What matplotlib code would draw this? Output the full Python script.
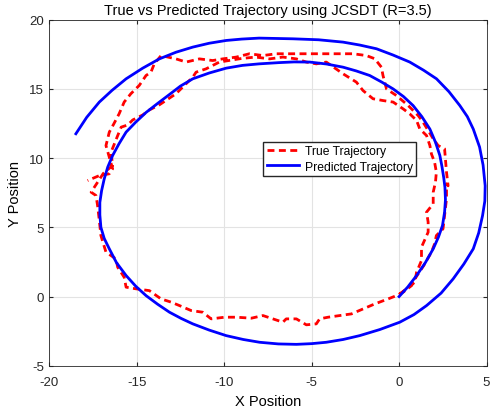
import matplotlib.pyplot as plt

plt.rcParams['font.family'] = ['Liberation Sans', 'DejaVu Sans']
plt.rcParams['axes.unicode_minus'] = False

# predicted trajectory (spiral)
pred_x = [0.0, 0.5, 1.0, 1.5, 1.95, 2.25, 2.48, 2.6, 2.65, 2.62, 2.55, 2.45, 2.33, 2.08,
          1.76, 1.3, 0.8, 0.25, -0.34, -1.0, -1.68, -2.45, -3.2, -4.15, -5.11, -6.0,
          -6.86, -8.0, -8.95, -9.88, -10.85, -11.79, -12.5, -13.12, -13.8, -14.46,
          -15.05, -15.6, -16.0, -16.37, -16.65, -16.85, -17.0, -17.1, -17.1, -17.04,
          -16.85, -16.56, -16.15, -15.6, -15.05, -14.46, -13.8, -13.12, -12.45,
          -11.79, -10.85, -9.88, -8.9, -7.97, -6.9, -5.87, -5.0, -4.16, -3.2, -2.25,
          -1.1, 0.04, 0.85, 1.57, 2.4, 3.09, 3.7, 4.24, 4.55, 4.77, 4.9, 4.92, 4.8,
          4.6, 4.24, 3.9, 3.47, 2.85, 2.14, 1.4, 0.61, -0.35, -1.29, -2.25, -3.2,
          -4.6, -6.07, -8.0, -9.0, -9.88, -10.85, -11.79, -12.75, -13.7, -14.65,
          -15.6, -16.4, -17.13, -17.85, -18.47]
pred_y = [0.0, 0.7, 1.52, 2.45, 3.45, 4.3, 5.13, 6.1, 7.0, 7.9, 8.6, 9.4, 10.19, 11.15,
          12.1, 13.0, 13.8, 14.45, 15.0, 15.5, 15.97, 16.3, 16.57, 16.8, 16.94, 16.95,
          16.9, 16.81, 16.7, 16.5, 16.15, 15.73, 15.2, 14.6, 13.95, 13.3,
          12.6, 11.88, 11.05, 10.19, 9.35, 8.5, 7.65, 6.8, 5.9, 5.0,
          4.2, 3.45, 2.45, 1.52, 0.75, 0.07, -0.55, -1.13, -1.58,
          -1.97, -2.42, -2.82, -3.1, -3.3, -3.42, -3.45, -3.4, -3.3, -3.1, -2.82,
          -2.38, -1.85, -1.3, -0.65, 0.25, 1.28, 2.35, 3.45, 4.6, 5.85, 6.9, 8.0, 9.5,
          10.8, 12.1, 13.0, 13.8, 14.8, 15.73, 16.35, 16.94, 17.45, 17.9, 18.17, 18.38,
          18.55, 18.62, 18.67, 18.6, 18.5, 18.3, 18.02, 17.65, 17.17, 16.5,
          15.73, 14.9, 14.05, 12.95, 11.76]

# true trajectory (noisy, two laps)
true_x = [0.04, 0.42, 0.9, 1.0, 1.28, 1.28, 1.53, 1.66, 1.66, 1.57, 1.95, 1.95, 2.08,
          2.13, 2.03, 1.85, 1.76, 1.57, 1.18, 1.0, 0.61, 0.23, -0.34, -0.92, -1.49,
          -2.06, -2.44, -3.2, -4.16, -4.73, -5.3, -5.87, -6.64, -7.4, -8.2, -9.0,
          -10.27, -11.03, -11.6, -11.79, -12.75, -13.7, -14.27, -14.65, -15.22,
          -15.5, -15.88, -16.08, -16.46, -16.37, -16.9, -17.6, -17.32, -17.23,
          -17.13, -17.04, -16.75, -16.18, -16.08, -15.71, -15.6, -15.03, -14.27,
          -13.6, -13.03, -12.55, -11.88, -11.22, -10.74, -9.97, -9.3, -8.44, -7.78,
          -7.21, -6.64, -6.45, -5.87, -5.3, -4.73, -4.54, -4.06, -3.39, -2.72,
          -2.06, -1.39, -0.63, -0.15, 0.23, 0.71, 0.9, 1.41, 1.57, 1.85, 2.03, 2.13,
          2.51, 2.6, 2.71, 2.71, 2.8, 2.71, 2.6, 2.23, 1.95, 1.66, 1.37, 1.09, 0.52,
          -0.15, -0.72, -0.92, -1.01, -1.39, -1.87, -2.63, -3.58, -4.54, -5.87,
          -7.02, -7.78, -8.55, -9.3, -10.08, -10.65, -11.41, -12.17, -12.75, -13.6,
          -13.99, -14.18, -14.46, -14.85, -15.33, -15.71, -16.0, -16.3, -16.56,
          -16.75, -16.37, -16.56, -17.13, -17.8]
true_y = [0.19, 0.56, 1.04, 1.76, 2.6, 3.57, 4.29, 4.65, 5.38, 6.1, 6.7, 7.54, 8.27,
          8.99, 9.7, 10.3, 10.91, 11.63, 12.12, 12.72, 13.2, 13.56, 14.05, 14.16, 14.29,
          14.88, 15.49, 16.09, 16.94, 16.81, 16.94, 17.17, 17.3, 17.17, 17.3, 17.2,
          16.94, 16.45, 16.21, 15.85, 14.65, 13.85, 13.48, 13.12, 12.76,
          12.4, 12.24, 11.63, 10.43, 9.47, 8.9, 7.54, 7.3, 6.58,
          5.49, 4.41, 3.21, 2.72, 2.12, 1.4, 0.68, 0.56, 0.43,
          -0.17, -0.4, -0.65, -1.01, -1.13, -1.61, -1.49, -1.49, -1.56, -1.37,
          -1.61, -1.85, -1.61, -1.61, -2.04, -1.97, -1.61, -1.49, -1.37, -1.25,
          -0.89, -0.53, -0.17, 0.07, 0.32, 0.79, 1.28, 2.24, 2.6, 3.21, 3.81, 4.41,
          4.89, 5.85, 7.06, 8.14, 8.0, 8.99, 10.67, 10.91, 11.4, 12.0, 12.6, 13.08, 13.8,
          14.52, 15.0, 15.97, 16.57, 17.18, 17.41, 17.54, 17.54, 17.54, 17.54,
          17.54, 17.41, 17.54, 17.3, 17.17, 17.05, 17.17, 16.94, 17.17, 17.41,
          16.81, 16.21, 15.97, 15.25, 14.65, 14.05, 13.2, 12.48, 11.88,
          10.91, 9.23, 8.87, 8.74, 8.38]

x_ticks = [-20, -15, -10, -5, 0, 5]
y_ticks = [-5, 0, 5, 10, 15, 20]

fig = plt.figure(figsize=(4.91, 4.14), dpi=100)
ax = fig.add_axes([0.1, 0.114, 0.891, 0.836])

ax.plot(true_x, true_y, color='r', ls=(0, (2.5, 1.6)), lw=2, label='True Trajectory')
ax.plot(pred_x, pred_y, color='b', lw=2, label='Predicted Trajectory')

ax.set_xlim(-20, 5)
ax.set_ylim(-5, 20)
ax.set_xticks(x_ticks)
ax.set_yticks(y_ticks)
ax.grid(True, color='#e3e3e3', lw=0.8)
ax.set_axisbelow(True)
ax.tick_params(direction='in', top=True, right=True, labelsize=9.5,
               colors='#262626', length=3)
ax.tick_params(axis='x', pad=7)
for s in ax.spines.values():
    s.set_color('#262626')
    s.set_linewidth(0.6)

ax.set_title('True vs Predicted Trajectory using JCSDT (R=3.5)', fontsize=10.5, pad=4)
ax.set_xlabel('X Position', fontsize=10.5, labelpad=5)
ax.set_ylabel('Y Position', fontsize=10.5, labelpad=5)

ax.legend(loc='upper left', bbox_to_anchor=(0.49, 0.647), fontsize=8.7,
          frameon=True, fancybox=False, edgecolor='#262626', framealpha=1,
          borderpad=0.3, labelspacing=0.25, handlelength=2.6, handletextpad=0.5,
          borderaxespad=0)

fig.savefig('out.png', dpi=100)
